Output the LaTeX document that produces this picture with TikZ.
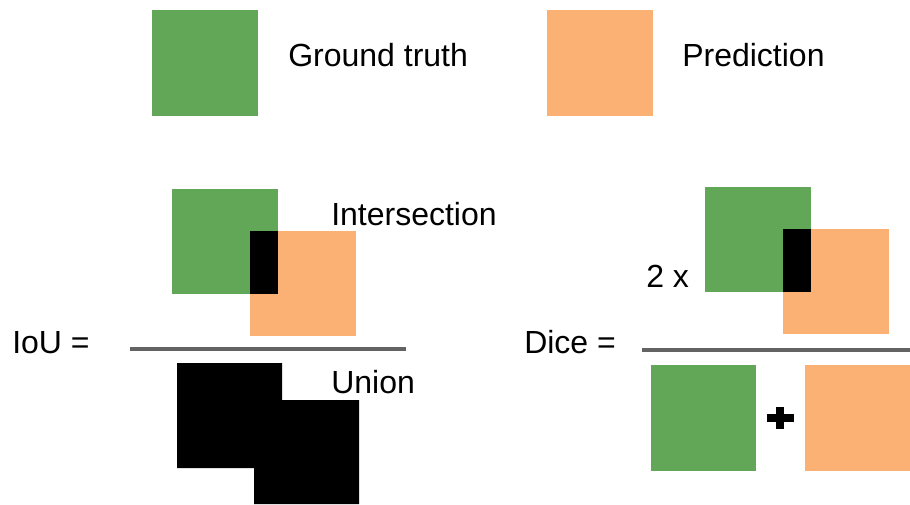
\documentclass[tikz,border=0pt]{standalone}
\usepackage{fontspec}
\setmainfont{Liberation Sans}
\definecolor{gtgreen}{HTML}{62A758}
\definecolor{predorange}{HTML}{FBB173}
\definecolor{barline}{HTML}{636363}
\begin{document}
\begin{tikzpicture}[x=0.75pt,y=-0.75pt,
  lbl/.style={inner sep=0pt,anchor=base west,font=\fontsize{24}{28}\selectfont},
  gt/.style={fill=gtgreen},
  pred/.style={fill=predorange},
  inter/.style={fill=black},
  fracbar/.style={draw=barline,line width=2.6pt}]
\useasboundingbox (0,0) rectangle (910,504);

% legend
\fill[gt] (152,10) rectangle (258,116);
\node[lbl] (lgt) at (288,66) {Ground truth};
\fill[pred] (547,10) rectangle (653,116);
\node[lbl] (lpred) at (682,66) {Prediction};

% IoU: intersection over union
\node[lbl] (iou) at (12,353) {IoU =};
\fill[gt] (172,189) rectangle (278,294);
\fill[pred] (250,231) rectangle (356,336);
\fill[inter] (250,231) rectangle (278,294);
\node[lbl] (tinter) at (331,225) {Intersection};
\coordinate (iouL) at (130,349);
\coordinate (iouR) at (406,349);
\draw[fracbar] (iouL) -- (iouR);
\fill[black] (177,363) -- (282,363) -- (282,400) -- (359,400) -- (359,504)
  -- (254,504) -- (254,468) -- (177,468) -- cycle;
\node[lbl] (tunion) at (331,393) {Union};

% Dice coefficient
\node[lbl] (dice) at (524,353) {Dice =};
\node[lbl] (two) at (646,287) {2 x};
\fill[gt] (705,187) rectangle (811,292);
\fill[pred] (783,229) rectangle (889,334);
\fill[inter] (783,229) rectangle (811,292);
\coordinate (diceL) at (642,350);
\coordinate (diceR) at (910,350);
\draw[fracbar] (diceL) -- (diceR);
\fill[gt] (651,365) rectangle (756,471);
\fill[pred] (805,365) rectangle (911,471);
% plus sign
\fill[black] (767,414) rectangle (794,422);
\fill[black] (776,407) rectangle (784,429);
\end{tikzpicture}
\end{document}
